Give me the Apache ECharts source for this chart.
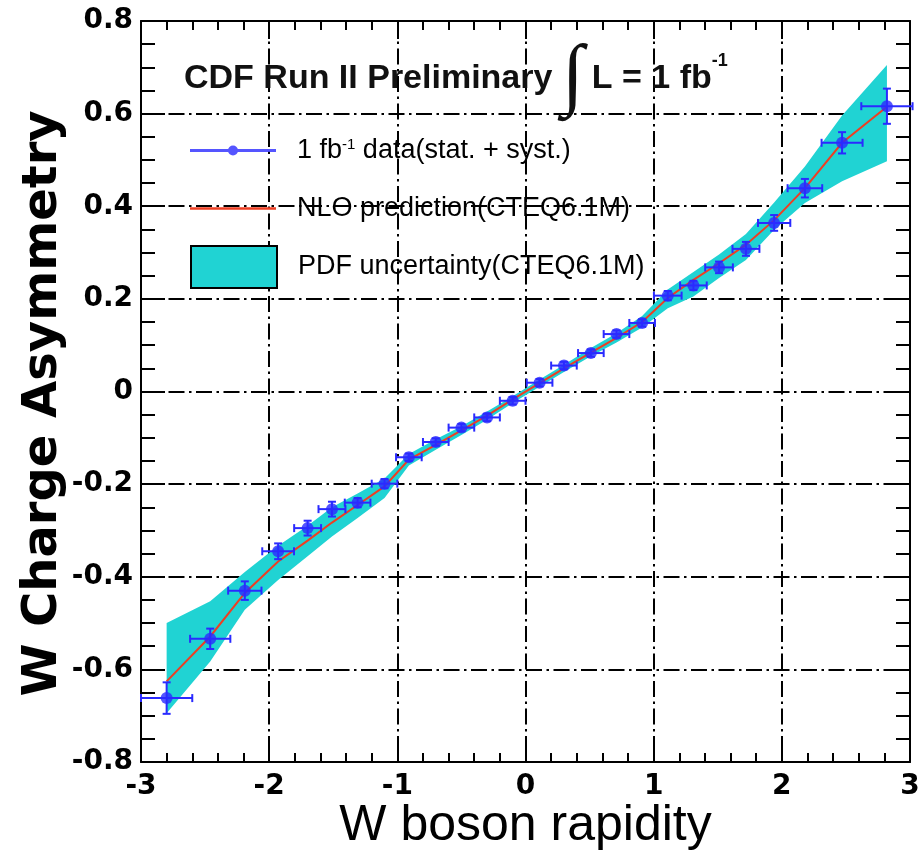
<!DOCTYPE html>
<html>
<head>
<meta charset="utf-8">
<script src="https://cdn.jsdelivr.net/npm/echarts@6/dist/echarts.min.js"></script>
<style>
html,body{margin:0;padding:0;background:#fff;}
#chart{width:924px;height:853px;}
</style>
</head>
<body>
<div id="chart"></div>
<script>
// ---- data ----
const dataX   = [-2.80,-2.46,-2.19,-1.93,-1.70,-1.51,-1.31,-1.10,-0.91,-0.70,-0.50,-0.30,-0.10,0.11,0.30,0.51,0.71,0.91,1.11,1.31,1.51,1.72,1.94,2.18,2.47,2.82];
const dataY   = [-0.662,-0.534,-0.430,-0.345,-0.295,-0.254,-0.240,-0.199,-0.142,-0.109,-0.078,-0.056,-0.020,0.019,0.056,0.083,0.124,0.148,0.207,0.229,0.268,0.308,0.364,0.439,0.537,0.616];
const dataXErr= [0.20,0.157,0.13,0.124,0.105,0.105,0.10,0.10,0.10,0.10,0.10,0.10,0.10,0.10,0.10,0.10,0.10,0.10,0.108,0.104,0.108,0.105,0.126,0.135,0.16,0.20];
const dataYErr= [0.034,0.022,0.020,0.017,0.016,0.016,0.010,0.010,0.008,0.008,0.008,0.008,0.008,0.008,0.008,0.008,0.008,0.008,0.010,0.010,0.0125,0.015,0.017,0.020,0.023,0.038];

const theoryX = [-2.80,-2.46,-2.19,-1.93,-1.70,-1.51,-1.31,-1.10,-0.91,-0.70,-0.50,-0.30,-0.10,0.11,0.30,0.51,0.71,0.91,1.11,1.31,1.51,1.72,1.94,2.18,2.47,2.82];
const nloY    = [-0.626,-0.529,-0.435,-0.367,-0.322,-0.283,-0.245,-0.205,-0.147,-0.115,-0.084,-0.052,-0.017,0.018,0.050,0.084,0.116,0.150,0.202,0.241,0.277,0.317,0.370,0.439,0.537,0.615];
const pdfUp   = [-0.500,-0.453,-0.390,-0.333,-0.290,-0.250,-0.220,-0.188,-0.135,-0.103,-0.075,-0.043,-0.010,0.026,0.058,0.094,0.126,0.163,0.220,0.258,0.296,0.340,0.408,0.486,0.596,0.705];
const pdfLo   = [-0.695,-0.583,-0.471,-0.407,-0.356,-0.313,-0.273,-0.230,-0.160,-0.126,-0.094,-0.061,-0.025,0.010,0.042,0.076,0.106,0.138,0.180,0.205,0.245,0.284,0.349,0.407,0.454,0.497];

const xTicks = {min:-3, max:3, step:1};
const yTicks = {min:-0.8, max:0.8, step:0.2};

const seriesNames = ['1 fb-1 data(stat. + syst.)', 'NLO prediction(CTEQ6.1M)', 'PDF uncertainty(CTEQ6.1M)'];

// ---- styles ----
const BLUE = '#2a2aff', RED = '#ee3e22', CYAN = '#20d3d3', BLACK = '#000';
const gridDash = [16,4.5,2.5,4.5];

const chart = echarts.init(document.getElementById('chart'), null, {renderer:'canvas'});

function xAxisCfg(pos, main){
  return {
    type:'value', position:pos, min:xTicks.min, max:xTicks.max, interval:xTicks.step,
    axisLine:{show:true, onZero:false, lineStyle:{color:BLACK, width:2}},
    axisTick:{show:true, inside:true, length:18, lineStyle:{color:BLACK, width:2}},
    minorTick:{show:true, splitNumber:5, length:9, lineStyle:{color:BLACK, width:2}},
    axisLabel:{show:main, color:BLACK, fontFamily:'DejaVu Sans', fontWeight:'bold', fontSize:28, margin:11},
    splitLine:{show:main, lineStyle:{color:BLACK, width:2, type:gridDash}},
    minorSplitLine:{show:false},
    name: main ? 'W boson rapidity' : '',
    nameLocation:'middle', nameGap:39, nameMoveOverlap:false,
    nameTextStyle:{color:BLACK, fontFamily:'Liberation Sans', fontSize:50}
  };
}
function yAxisCfg(pos, main){
  return {
    type:'value', position:pos, min:yTicks.min, max:yTicks.max, interval:yTicks.step,
    axisLine:{show:true, onZero:false, lineStyle:{color:BLACK, width:2}},
    axisTick:{show:true, inside:true, length:24, lineStyle:{color:BLACK, width:2}},
    minorTick:{show:true, splitNumber:4, length:14, lineStyle:{color:BLACK, width:2}},
    axisLabel:{show:main, color:BLACK, fontFamily:'DejaVu Sans', fontWeight:'bold', fontSize:28, margin:8},
    splitLine:{show:main, lineStyle:{color:BLACK, width:2, type:gridDash}},
    name: main ? 'W Charge Asymmetry' : '',
    nameLocation:'middle', nameRotate:90, nameGap:73, nameMoveOverlap:false,
    nameTextStyle:{color:BLACK, fontFamily:'DejaVu Sans', fontWeight:'bold', fontSize:48, padding:[0,24,0,0]}
  };
}

const legendText = {color:BLACK, fontFamily:'Liberation Sans', fontSize:27,
  rich:{
    g:{width:16},
    t:{color:BLACK, fontFamily:'Liberation Sans', fontSize:27},
    s:{color:BLACK, fontFamily:'Liberation Sans', fontSize:15, verticalAlign:'top'}
  }};

const option = {
  animation:false,
  backgroundColor:'#fff',
  grid:{left:141, right:14, top:21, bottom:91, containLabel:false, outerBoundsMode:'none'},
  title:{
    left:179, top:34,
    text:'{t|CDF Run II Preliminary }{i|\u222B}{t|L = 1 fb}{s|-1}',
    textStyle:{
      rich:{
        t:{fontFamily:'Liberation Sans', fontWeight:'bold', fontSize:34, color:'#111', verticalAlign:'middle'},
        i:{fontFamily:'Liberation Serif', fontSize:80, color:'#111', verticalAlign:'middle', padding:[0,8,0,0]},
        s:{fontFamily:'Liberation Sans', fontWeight:'bold', fontSize:18, color:'#111', verticalAlign:'middle', padding:[0,0,36,0]}
      }
    }
  },
  legend:[
    {
      left:190, top:137, padding:0, orient:'vertical', selectedMode:false,
      data:[{name:seriesNames[0], icon:'path://M0,3.5L86,3.5L86,6.5L0,6.5Z M38,5 A5,5 0 1,1 48,5 A5,5 0 1,1 38,5 Z'}],
      itemWidth:86, itemHeight:10,
      itemStyle:{color:BLUE, borderWidth:0},
      formatter:function(){ return '{g|}{t|1 fb}{s|-1}{t| data(stat. + syst.)}'; },
      textStyle:legendText
    },
    {
      left:190, top:195, padding:0, orient:'vertical', selectedMode:false,
      data:[{name:seriesNames[1], icon:'rect'}],
      itemWidth:86, itemHeight:2.5,
      itemStyle:{color:RED, borderWidth:0},
      formatter:function(n){ return '{g|}{t|' + n + '}'; },
      textStyle:legendText
    },
    {
      left:190, top:245, padding:0, orient:'vertical', selectedMode:false,
      data:[{name:seriesNames[2], icon:'rect'}],
      itemWidth:86, itemHeight:42,
      itemStyle:{color:CYAN, borderColor:BLACK, borderWidth:2},
      formatter:function(n){ return '{g|}{t|' + n + '}'; },
      textStyle:legendText
    }
  ],
  xAxis:[xAxisCfg('bottom', true), xAxisCfg('top', false)],
  yAxis:[yAxisCfg('left', true), yAxisCfg('right', false)],
  series:[
    {
      name:seriesNames[2], type:'custom', z:1,
      itemStyle:{color:CYAN},
      data: theoryX.map((x,i)=>[x, pdfLo[i], pdfUp[i]]),
      encode:{x:0, y:[1,2]},
      renderItem:function(params, api){
        if (params.dataIndex !== 0) return null;
        const pts = [];
        for (let i=0;i<theoryX.length;i++) pts.push(api.coord([theoryX[i], pdfUp[i]]));
        for (let i=theoryX.length-1;i>=0;i--) pts.push(api.coord([theoryX[i], pdfLo[i]]));
        return {type:'polygon', shape:{points:pts}, style:{fill:CYAN, stroke:null}};
      },
      silent:true
    },
    {
      name:seriesNames[1], type:'custom', z:2,
      itemStyle:{color:RED},
      data: theoryX.map((x,i)=>[x, nloY[i]]),
      encode:{x:0, y:1},
      renderItem:function(params, api){
        if (params.dataIndex !== 0) return null;
        const pts = theoryX.map((x,i)=>api.coord([x, nloY[i]]));
        return {type:'polyline', shape:{points:pts}, style:{stroke:RED, lineWidth:2, fill:null}};
      },
      silent:true
    },
    {
      name:seriesNames[0]+' err', type:'custom', z:3,
      data: dataX.map((x,i)=>[x, dataY[i], dataXErr[i], dataYErr[i]]),
      encode:{x:0, y:1},
      renderItem:function(params, api){
        const x = api.value(0), y = api.value(1), ex = api.value(2), ey = api.value(3);
        const c = api.coord([x, y]);
        const l = api.coord([x-ex, y]), r = api.coord([x+ex, y]);
        const t = api.coord([x, y+ey]), b = api.coord([x, y-ey]);
        const cap = 4;
        const st = {stroke:BLUE, lineWidth:2};
        return {type:'group', children:[
          {type:'line', shape:{x1:l[0], y1:c[1], x2:r[0], y2:c[1]}, style:st},
          {type:'line', shape:{x1:l[0], y1:c[1]-cap, x2:l[0], y2:c[1]+cap}, style:st},
          {type:'line', shape:{x1:r[0], y1:c[1]-cap, x2:r[0], y2:c[1]+cap}, style:st},
          {type:'line', shape:{x1:c[0], y1:t[1], x2:c[0], y2:b[1]}, style:st},
          {type:'line', shape:{x1:c[0]-cap, y1:t[1], x2:c[0]+cap, y2:t[1]}, style:st},
          {type:'line', shape:{x1:c[0]-cap, y1:b[1], x2:c[0]+cap, y2:b[1]}, style:st}
        ]};
      },
      silent:true
    },
    {
      name:seriesNames[0], type:'scatter', z:4,
      symbol:'circle', symbolSize:12,
      itemStyle:{color:BLUE},
      data: dataX.map((x,i)=>[x, dataY[i]]),
      silent:true
    }
  ]
};
chart.setOption(option);
</script>
</body>
</html>
